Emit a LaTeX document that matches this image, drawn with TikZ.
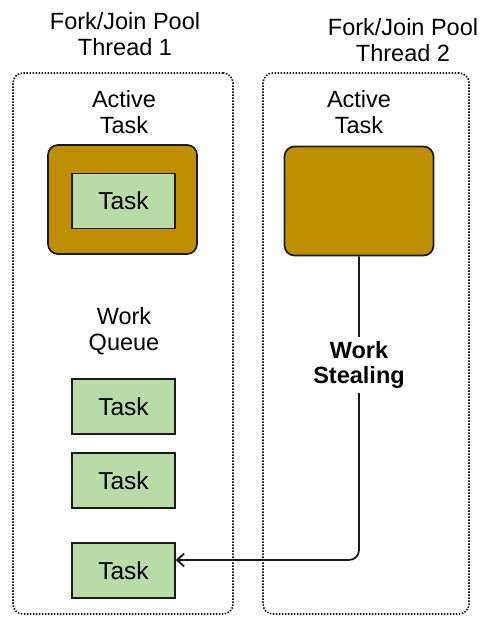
\documentclass[tikz,border=0pt]{standalone}
\usepackage{fontspec}
\setmainfont{Liberation Sans}
\usetikzlibrary{arrows.meta}

\definecolor{gold}{HTML}{BF8F00}
\definecolor{leaf}{HTML}{B9DBA5}
\definecolor{edge}{HTML}{1A1A1A}

\tikzset{
  pool/.style={draw=edge, line width=1.7pt, dash pattern=on 1.5pt off 1.5pt,
    rounded corners=10pt, minimum width=#1, minimum height=541pt, inner sep=0pt},
  caption/.style={align=center, inner sep=0pt,
    font=\fontsize{23.5}{26}\selectfont},
  activebox/.style={draw=edge, line width=1.7pt, fill=gold, rounded corners=10pt,
    minimum width=149pt, minimum height=109pt, inner sep=0pt},
  taskbox/.style={draw=edge, line width=1.7pt, fill=leaf,
    minimum width=103pt, minimum height=55pt, inner sep=0pt,
    font=\fontsize{24.5}{26}\selectfont},
  steal/.style={draw=edge, line width=1.8pt, rounded corners=10pt,
    -{Straight Barb[length=7pt,width=13pt,line width=1.8pt]}},
}

\begin{document}
\begin{tikzpicture}[x=1pt, y=-1pt]
  \useasboundingbox (0,0) rectangle (479,617);

  % two worker threads
  \node[pool=220pt] (p1) at (123,343.5) {};
  \node[pool=206pt] (p2) at (366,343.5) {};

  \node[caption] (h1) at (125,34) {Fork/Join Pool\\Thread 1};
  \node[caption] (h2) at (403,40) {Fork/Join Pool\\Thread 2};

  % active tasks
  \node[caption] (l1) at (124,112.5) {Active\\Task};
  \node[caption] (l2) at (359,112.5) {Active\\Task};

  \node[activebox] (a1) at (122.5,199.5) {};
  \node[taskbox] (t0) at (123.5,201) {Task};
  \node[activebox] (a2) at (359,201) {};

  % work queue of thread 1
  \node[caption] (wq) at (124,331) {Work\\Queue};
  \node[taskbox] (t1) at (123.5,406.5) {Task};
  \node[taskbox] (t2) at (123.5,480.5) {Task};
  \node[taskbox] (t3) at (123.5,570.5) {Task};

  % thread 2 steals from the tail of the queue
  \draw[steal] (a2.south) |- ([yshift=10.5pt]t3.east);
  \node[caption, fill=white, inner sep=4pt, font=\bfseries\fontsize{23.5}{25.5}\selectfont]
    (ws) at (359,365) {Work\\Stealing};
\end{tikzpicture}
\end{document}
